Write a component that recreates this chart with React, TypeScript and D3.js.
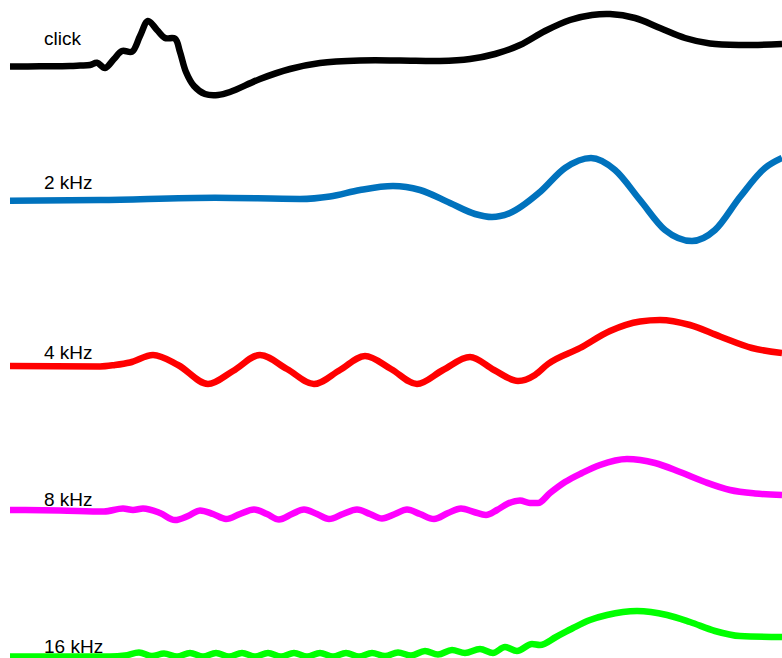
import React from "react";
import * as d3 from "d3";

// time in ms, amplitude in arbitrary units (positive = up)
const labels = ["click", "2 kHz", "4 kHz", "8 kHz", "16 kHz"];
const colors = ["#000000", "#0072BD", "#FF0000", "#FF00FF", "#00FF00"];
const traceOffsets = [-6.6, -20.0, -36.6, -50.9, -65.6];
const labelLift = [2.1, 1.1, 0.7, 0.3, 0.3];

const clickT = [0, 0.3, 0.6, 0.7, 0.8, 0.87, 0.95, 1.04, 1.12, 1.22, 1.3, 1.38, 1.47, 1.55, 1.65, 1.7, 1.76, 1.84, 1.95, 2.08, 2.2, 2.5, 2.8, 3.1, 3.5, 3.9, 4.3, 4.6, 4.85, 5.1, 5.35, 5.6, 5.82, 6.0, 6.25, 6.5, 6.75, 7.0, 7.3, 7.72];
const clickA = [-0.05, -0.03, 0, 0.05, 0.1, 0.33, -0.2, 0.7, 1.5, 1.43, 3.0, 4.5, 3.6, 2.8, 2.73, 1.4, -0.6, -2.0, -2.8, -2.9, -2.6, -1.3, -0.3, 0.3, 0.55, 0.55, 0.5, 0.7, 1.2, 2.1, 3.5, 4.6, 5.1, 5.2, 4.8, 3.8, 2.8, 2.25, 2.1, 2.2];

const k2T = [0, 0.9, 2.05, 2.9, 3.2, 3.5, 3.83, 4.1, 4.4, 4.65, 4.82, 5.0, 5.3, 5.55, 5.81, 6.05, 6.3, 6.55, 6.82, 7.05, 7.3, 7.55, 7.72];
const k2A = [-0.07, 0, 0.23, 0.1, 0.35, 1.0, 1.4, 1.0, -0.3, -1.4, -1.7, -1.3, 0.8, 3.2, 4.2, 3.0, 0, -3.0, -4.1, -3.0, 0.3, 3.2, 4.2];

const k4T = [0, 0.9, 1.05, 1.2, 1.43, 1.68, 1.98, 2.23, 2.5, 2.77, 3.04, 3.3, 3.55, 3.81, 4.07, 4.33, 4.6, 4.84, 5.08, 5.25, 5.38, 5.7, 6.0, 6.3, 6.5, 6.8, 7.1, 7.42, 7.72];
const k4A = [0, -0.05, 0.1, 0.35, 1.1, 0.1, -1.8, -0.5, 1.1, -0.3, -1.8, -0.4, 1.0, -0.3, -1.8, -0.4, 0.9, -0.4, -1.5, -0.9, 0.2, 1.8, 3.5, 4.45, 4.6, 4.1, 2.95, 1.8, 1.3];

const k8T = [0, 0.5, 0.94, 1.13, 1.23, 1.33, 1.5, 1.65, 1.78, 1.9, 2.03, 2.16, 2.3, 2.44, 2.57, 2.69, 2.82, 2.94, 3.07, 3.19, 3.33, 3.47, 3.6, 3.72, 3.85, 3.97, 4.1, 4.24, 4.38, 4.51, 4.64, 4.76, 4.87, 4.98, 5.1, 5.2, 5.28, 5.4, 5.55, 5.72, 5.9, 6.17, 6.45, 6.7, 6.95, 7.2, 7.45, 7.72];
const k8A = [-0.1, -0.15, -0.25, 0.05, -0.1, 0.05, -0.4, -1.1, -0.7, -0.15, -0.5, -1.0, -0.5, -0.05, -0.5, -1.05, -0.5, -0.05, -0.5, -1.0, -0.5, -0.05, -0.5, -0.95, -0.5, -0.05, -0.5, -1.0, -0.4, 0.05, -0.3, -0.6, -0.1, 0.55, 0.85, 0.6, 0.6, 1.6, 2.7, 3.6, 4.4, 5.0, 4.6, 3.7, 2.7, 1.9, 1.55, 1.4];

const k16T = [0, 0.7, 1.0, 1.15, 1.29, 1.42, 1.54, 1.67, 1.8, 1.93, 2.06, 2.19, 2.32, 2.45, 2.58, 2.71, 2.84, 2.97, 3.1, 3.23, 3.36, 3.49, 3.62, 3.75, 3.88, 4.01, 4.15, 4.28, 4.42, 4.55, 4.7, 4.83, 4.95, 5.07, 5.22, 5.3, 5.46, 5.63, 5.8, 5.97, 6.27, 6.57, 6.8, 7.05, 7.3, 7.72];
const k16A = [-0.05, -0.05, -0.05, 0.05, 0.35, 0, 0.25, -0.05, 0.3, -0.05, 0.3, -0.05, 0.3, -0.05, 0.3, -0.05, 0.3, -0.05, 0.3, -0.05, 0.3, -0.05, 0.3, 0, 0.35, 0.05, 0.5, 0.15, 0.6, 0.3, 0.7, 0.3, 0.9, 0.5, 1.2, 1.1, 1.9, 2.8, 3.6, 4.1, 4.5, 4.1, 3.4, 2.5, 2.0, 1.9];

const times = [clickT, k2T, k4T, k8T, k16T];
const amps = [clickA, k2A, k4A, k8A, k16A];

const W = 782;
const H = 658;

export default function App() {
  const x = d3.scaleLinear().domain([0, 7.72]).range([10, 782]);
  const y = d3.scaleLinear().domain([0, -65.8]).range([0, H]);

  return (
    <svg
      width={W}
      height={H}
      style={{ position: "absolute", left: 0, top: 0, background: "#fff" }}
    >
      {labels.map((lab, i) => {
        const pts: [number, number][] = times[i].map((t, j) => [t, amps[i][j] + traceOffsets[i]]);
        const line = d3
          .line<[number, number]>()
          .x((d) => x(d[0]))
          .y((d) => y(d[1]))
          .curve(i === 0 ? d3.curveCatmullRom.alpha(0.5) : d3.curveMonotoneX);
        return (
          <path
            key={"l" + i}
            d={line(pts) || ""}
            fill="none"
            stroke={colors[i]}
            strokeWidth={6.5}
            strokeLinejoin="round"
            strokeLinecap="butt"
          />
        );
      })}
      {labels.map((lab, i) => (
        <text
          key={"t" + i}
          x={x(0.34)}
          y={y(traceOffsets[i] + labelLift[i])}
          fontFamily="Liberation Sans, Arial, sans-serif"
          fontSize={19}
          fill="#000"
        >
          {lab}
        </text>
      ))}
    </svg>
  );
}
